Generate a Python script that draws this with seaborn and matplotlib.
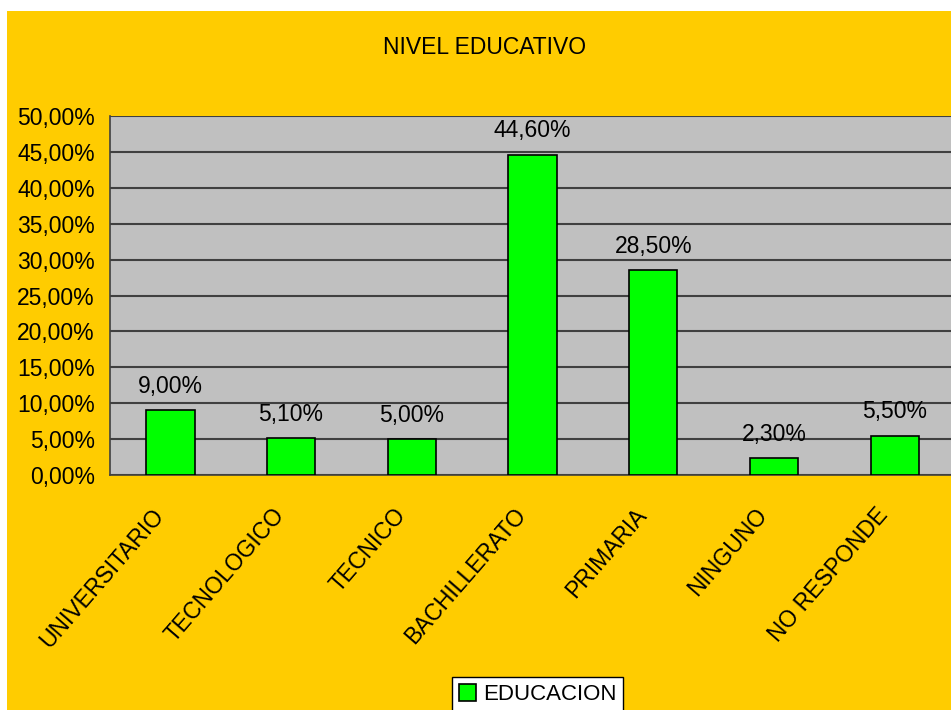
import matplotlib
matplotlib.use('Agg')
import matplotlib.pyplot as plt
import matplotlib.patches as mpatches
import matplotlib.transforms as mtransforms
import seaborn as sns
import pandas as pd

# datos
categorias = ['UNIVERSITARIO', 'TECNOLOGICO', 'TECNICO', 'BACHILLERATO',
              'PRIMARIA', 'NINGUNO', 'NO RESPONDE']
valores = [9.0, 5.1, 5.0, 44.6, 28.5, 2.3, 5.5]
y_ticks = [0, 5, 10, 15, 20, 25, 30, 35, 40, 45, 50]
serie = 'EDUCACION'
titulo = 'NIVEL EDUCATIVO'

amarillo = '#FFCC00'
gris = '#C0C0C0'
verde = '#00FF00'
fs = 16.5

sns.set_style('white')
plt.rcParams['font.family'] = ['Liberation Sans', 'DejaVu Sans']
plt.rcParams['text.color'] = 'black'
plt.rcParams['xtick.color'] = 'black'
plt.rcParams['ytick.color'] = 'black'
plt.rcParams['xtick.labelcolor'] = 'black'
plt.rcParams['ytick.labelcolor'] = 'black'

df = pd.DataFrame({'nivel': categorias, 'pct': valores})

fig = plt.figure(figsize=(9.51, 7.10), dpi=100)
fig.patch.set_facecolor('white')
# fondo amarillo del grafico
fig.add_artist(mpatches.Rectangle((7 / 951, 0), 1, 1 - 11 / 710,
                                  transform=fig.transFigure,
                                  facecolor=amarillo, edgecolor='none', zorder=-10))

ax = fig.add_axes([110 / 951, 1 - 475 / 710, 845 / 951, 359 / 710])
ax.set_facecolor(gris)

sns.barplot(data=df, x='nivel', y='pct', color=verde, width=0.4,
            edgecolor='black', linewidth=1.2, saturation=1, ax=ax, zorder=3)

ax.set_xlim(-0.5, len(categorias) - 0.5)
ax.set_ylim(0, 50)
ax.set_yticks(y_ticks)
ax.set_yticklabels([f'{v:.2f}'.replace('.', ',') + '%' for v in y_ticks], fontsize=fs)
ax.yaxis.grid(True, color='#404040', linewidth=1.5, zorder=0)
ax.set_axisbelow(True)

# ticks del eje x en los limites de categoria
ax.set_xticks([i - 0.5 for i in range(len(categorias) + 1)], minor=True)
ax.tick_params(axis='x', which='minor', length=6, width=1, color='#404040', direction='out')
ax.tick_params(axis='x', which='major', length=0, pad=10)
ax.tick_params(axis='y', which='major', length=7, width=1, color='#404040', direction='out', pad=4)
ax.set_xticks(range(len(categorias)))
ax.set_xticklabels(categorias, rotation=49, ha='right', rotation_mode='anchor', fontsize=fs)
desplaz = mtransforms.ScaledTranslation(-19 / 100, -15 / 100, fig.dpi_scale_trans)
for lab in ax.get_xticklabels():
    lab.set_transform(lab.get_transform() + desplaz)

for s in ['top', 'right']:
    ax.spines[s].set_visible(False)
for s in ['left', 'bottom']:
    ax.spines[s].set_color('#404040')
    ax.spines[s].set_linewidth(1.2)

ax.set_xlabel('')
ax.set_ylabel('')

etiquetas = [f'{v:.2f}'.replace('.', ',') + '%' for v in valores]
ax.bar_label(ax.containers[0], labels=etiquetas, padding=9, fontsize=fs, color='black')

fig.text(485 / 951, 1 - 47 / 710, titulo, ha='center', va='center', fontsize=fs, color='black')

handle = mpatches.Patch(facecolor=verde, edgecolor='black', linewidth=1.2, label=serie)
fig.legend(handles=[handle], loc='upper left', bbox_to_anchor=(452 / 951, 1 - 677 / 710),
           frameon=True, fancybox=False, edgecolor='black', framealpha=1,
           fontsize=16, handlelength=0.8, handleheight=0.8, handletextpad=0.3,
           borderpad=0.3, borderaxespad=0, labelcolor='black')

plt.savefig('out.png', dpi=100, facecolor=fig.get_facecolor())
